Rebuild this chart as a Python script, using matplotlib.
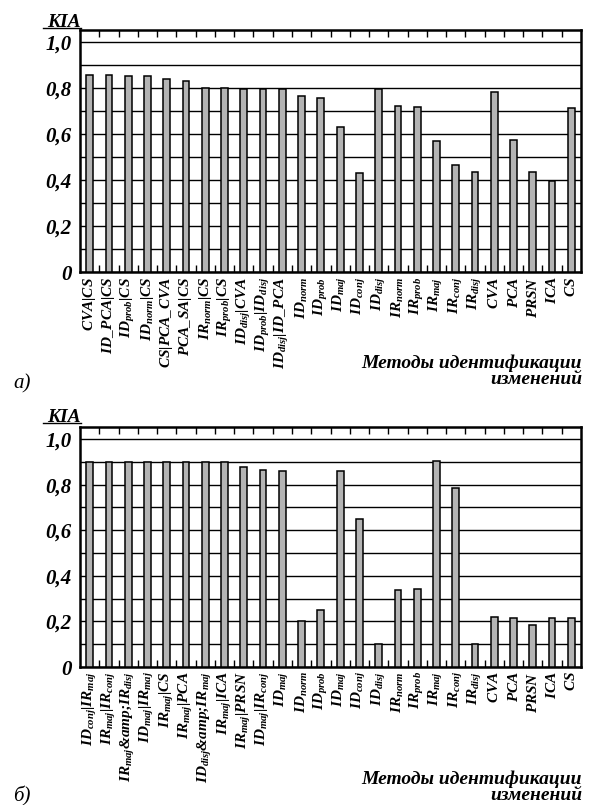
import matplotlib
matplotlib.use("Agg")
import matplotlib.pyplot as plt
from matplotlib.ticker import MultipleLocator, FixedLocator
from matplotlib.lines import Line2D

plt.rcParams["font.family"] = ["Liberation Serif", "DejaVu Serif"]
plt.rcParams["mathtext.fontset"] = "custom"
plt.rcParams["mathtext.it"] = "Liberation Serif:italic:bold"
plt.rcParams["mathtext.rm"] = "Liberation Serif:italic:bold"
plt.rcParams["mathtext.bf"] = "Liberation Serif:italic:bold"

# a) methods and KIA
metodos_a = [
    r"$CVA|CS$", r"$ID\_PCA|CS$", r"$ID_{prob}|CS$", r"$ID_{norm}|CS$",
    r"$CS|PCA\_CVA$", r"$PCA\_SA|CS$", r"$IR_{norm}|CS$", r"$IR_{prob}|CS$",
    r"$ID_{disj}|CVA$", r"$ID_{prob}|ID_{disj}$", r"$ID_{disj}|ID\_PCA$",
    r"$ID_{norm}$", r"$ID_{prob}$", r"$ID_{maj}$", r"$ID_{conj}$", r"$ID_{disj}$",
    r"$IR_{norm}$", r"$IR_{prob}$", r"$IR_{maj}$", r"$IR_{conj}$", r"$IR_{disj}$",
    r"$CVA$", r"$PCA$", r"$PRSN$", r"$ICA$", r"$CS$",
]
kia_a = [0.858, 0.856, 0.853, 0.851, 0.838, 0.831, 0.801, 0.801, 0.797, 0.797, 0.797,
         0.765, 0.756, 0.630, 0.431, 0.797, 0.724, 0.718, 0.570, 0.466, 0.437,
         0.781, 0.574, 0.434, 0.398, 0.713]

# б) methods and KIA
metodos_b = [
    r"$ID_{conj}|IR_{maj}$", r"$IR_{maj}|IR_{conj}$", r"$IR_{maj}$&amp;$IR_{disj}$",
    r"$ID_{maj}|IR_{maj}$", r"$IR_{maj}|CS$", r"$IR_{maj}|PCA$",
    r"$ID_{disj}$&amp;$IR_{maj}$", r"$IR_{maj}|ICA$", r"$IR_{maj}|PRSN$",
    r"$ID_{maj}|IR_{conj}$", r"$ID_{maj}$",
    r"$ID_{norm}$", r"$ID_{prob}$", r"$ID_{maj}$", r"$ID_{conj}$", r"$ID_{disj}$",
    r"$IR_{norm}$", r"$IR_{prob}$", r"$IR_{maj}$", r"$IR_{conj}$", r"$IR_{disj}$",
    r"$CVA$", r"$PCA$", r"$PRSN$", r"$ICA$", r"$CS$",
]
kia_b = [0.90, 0.90, 0.90, 0.90, 0.90, 0.90, 0.90, 0.90, 0.877, 0.865, 0.858,
         0.203, 0.250, 0.858, 0.649, 0.100, 0.340, 0.343, 0.903, 0.784, 0.100,
         0.219, 0.213, 0.186, 0.216, 0.213]

y_ticks = [0, 0.2, 0.4, 0.6, 0.8, 1.0]
y_labels = ["0", "0,2", "0,4", "0,6", "0,8", "1,0"]
eje_x = "Методы идентификации\nизменений"

W, H = 591, 805
fig = plt.figure(figsize=(W / 100, H / 100), dpi=100)


def grafico(rect, metodos, kia, ymax):
    ax = fig.add_axes(rect)
    x = list(range(len(kia)))
    ax.bar(x, kia, width=0.35, color="#b4b4b4", edgecolor="black", linewidth=1.1, zorder=3)
    ax.set_xlim(-0.5, len(kia) - 0.5)
    ax.set_ylim(0, ymax)
    ax.yaxis.set_minor_locator(MultipleLocator(0.1))
    ax.grid(True, axis="y", which="both", color="black", linewidth=1.0, zorder=1)
    ax.set_yticks(y_ticks)
    ax.set_yticklabels(y_labels, fontsize=15, fontweight="bold", fontstyle="italic")
    ax.tick_params(axis="y", which="both", length=0, pad=6)
    ax.set_xticks(x)
    ax.set_xticklabels(metodos, rotation=90, fontsize=11, fontweight="bold",
                       fontstyle="italic")
    ax.xaxis.set_minor_locator(FixedLocator([i + 0.5 for i in x[:-1]]))
    ax.tick_params(axis="x", which="major", length=0, pad=3)
    ax.tick_params(axis="x", which="minor", direction="in", length=5, width=1,
                   top=True, bottom=True)
    for s in ax.spines.values():
        s.set_linewidth(1.8)
    return ax


ax1 = grafico([80 / W, 1 - 272.5 / H, 501 / W, 242.5 / H], metodos_a, kia_a, 1.052)
ax2 = grafico([80 / W, 1 - 667 / H, 501 / W, 240 / H], metodos_b, kia_b, 1.053)

for top, lab_y, letra, letra_y in [(27, 384, "а)", 388), (422, 800, "б)", 801)]:
    fig.text(81 / W, 1 - top / H, "KIA", ha="right", va="baseline",
             fontsize=14, fontweight="bold", fontstyle="italic")
    fig.add_artist(Line2D([43 / W, 81 / W], [1 - (top + 1) / H, 1 - (top + 1) / H],
                          color="black", linewidth=1.0))
    fig.text(582 / W, 1 - lab_y / H, eje_x, ha="right", va="baseline",
             fontsize=14, fontweight="bold", fontstyle="italic", linespacing=0.95,
             multialignment="right")
    fig.text(13 / W, 1 - letra_y / H, letra, ha="left", va="baseline",
             fontsize=15, fontstyle="italic")

fig.savefig("out.png", dpi=100)
